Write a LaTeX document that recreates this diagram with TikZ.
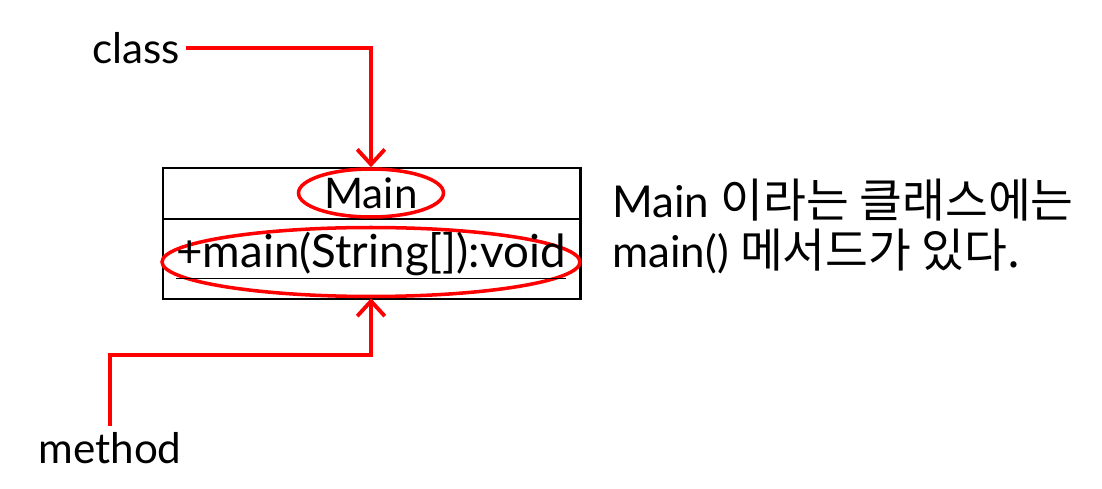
\documentclass[tikz,border=0pt]{standalone}
\usepackage{fontspec}
\setmainfont{Lato}
\newfontfamily\kofont{Noto Sans CJK KR}
\usetikzlibrary{arrows.meta,positioning,shapes.geometric}

\begin{document}
\begin{tikzpicture}[x=0.02cm, y=-0.02cm,
  every node/.style={font=\fontsize{24}{28}\selectfont},
  pointer/.style={draw=red, line width=2.2pt, -{Straight Barb[length=3mm,width=5.5mm,line width=2.2pt]}},
  ring/.style={draw=red, line width=2pt, ellipse, inner sep=0pt},
  classline/.style={line width=1.7pt, black}
]
  \useasboundingbox (0,0) rectangle (1102,489);

  % Klassenbox
  \draw[classline] (163,168) rectangle (580,299);
  \draw[classline] (163,219) -- (580,219);

  % Markierungen
  \node[ring, minimum width=2.9cm, minimum height=0.96cm] (mainring) at (371,193) {};
  \node[ring, minimum width=8.36cm, minimum height=1.38cm] (methring) at (371,262) {};
  \node (classname) at (371,193) {Main};
  \node[font=\fontsize{26}{30}\selectfont] (methname) at (371,256) {\underline{+main(String[]):void}};

  % Beschriftungen
  \node (class) at (136,48) {class};
  \node (method) at (110,448) {method};
  \coordinate (mturn) at (371,355);

  % Pfeile
  \draw[pointer] (class.east) -| (mainring.north);
  \draw[pointer] (method.north) |- (mturn) -- (methring.south);

  % Erklaerung
  \node[anchor=north west, align=left, inner sep=0pt, font=\fontsize{25}{28.5}\selectfont] (note) at (612,179)
    {Main {\kofont\fontsize{26.5}{28.5}\selectfont 이라는 클래스에는}\\main() {\kofont\fontsize{26.5}{28.5}\selectfont 메서드가 있다.}};
\end{tikzpicture}
\end{document}
